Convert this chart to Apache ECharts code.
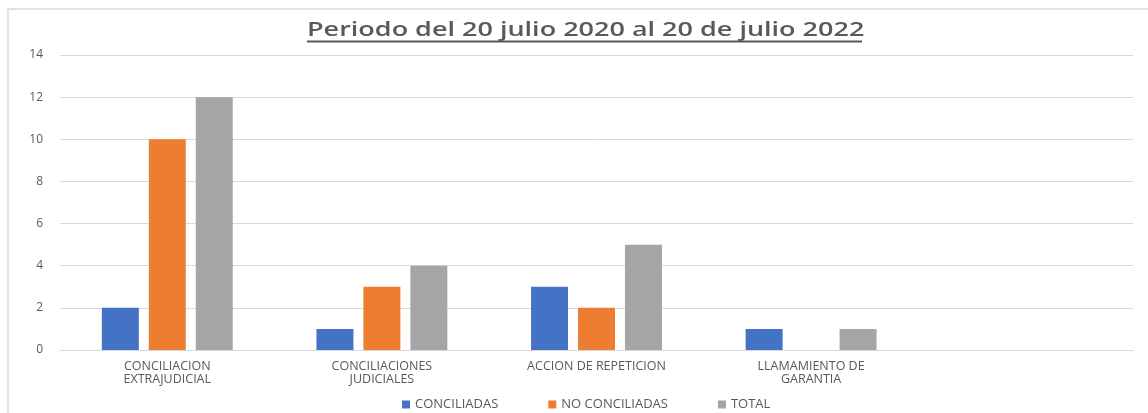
<!DOCTYPE html>
<html>
<head>
<meta charset="utf-8">
<script src="https://cdn.jsdelivr.net/npm/echarts@6/dist/echarts.min.js"></script>
<style>
  html, body { margin: 0; padding: 0; background: #fff; }
  #chart { width: 1148px; height: 413px; }
</style>
</head>
<body>
<div id="chart"></div>
<script>
// categories (the last slot is left empty, as in the original sheet)
const categories = [
  "CONCILIACION\nEXTRAJUDICIAL",
  "CONCILIACIONES\nJUDICIALES",
  "ACCION DE REPETICION",
  "LLAMAMIENTO DE\nGARANTIA",
  ""
];
const conciliadas = [2, 1, 3, 1, null];
const noConciliadas = [10, 3, 2, null, null];
const total = [12, 4, 5, 1, null];

const titleText = "Periodo del 20 julio 2020 al 20 de julio 2022";
const textColor = "#595959";
const font = "'Open Sans', sans-serif";

const chart = echarts.init(document.getElementById("chart"));
chart.setOption({
  animation: false,
  color: ["#4472C4", "#ED7D31", "#A5A5A5"],
  graphic: [
    // chart frame
    { type: "rect", shape: { x: 8, y: 9, width: 1200, height: 420 },
      style: { fill: "none", stroke: "#d9d9d9", lineWidth: 1.5 }, silent: true },
    // title (the original is stretched a bit wider)
    { type: "text", x: 307, y: 30.5, scaleX: 1.35, silent: true,
      style: { text: titleText, fontFamily: font, fontSize: 20, fontWeight: 600,
               fill: textColor, verticalAlign: "middle" } },
    // title underline
    { type: "line", shape: { x1: 307, y1: 41.5, x2: 862, y2: 41.5 },
      style: { stroke: textColor, lineWidth: 1.8 }, silent: true }
  ],
  legend: {
    top: 393,
    left: 397,
    itemWidth: 8,
    itemHeight: 8,
    itemGap: 50,
    icon: "rect",
    textStyle: { fontFamily: font, fontSize: 13, color: textColor }
  },
  grid: { left: 60, right: 15, top: 55, bottom: 63 },
  xAxis: {
    type: "category",
    data: categories,
    axisTick: { show: false },
    axisLine: { lineStyle: { color: "#d9d9d9" } },
    axisLabel: { interval: 0, margin: 10, fontFamily: font, fontSize: 12.5, lineHeight: 13, color: textColor }
  },
  yAxis: {
    type: "value",
    min: 0,
    max: 14,
    interval: 2,
    axisLabel: { margin: 17, fontFamily: font, fontSize: 12, color: textColor },
    splitLine: { lineStyle: { color: "#d9d9d9" } }
  },
  series: [
    { name: "CONCILIADAS", type: "bar", data: conciliadas, barGap: "27%", barCategoryGap: "39%" },
    { name: "NO CONCILIADAS", type: "bar", data: noConciliadas, barGap: "27%", barCategoryGap: "39%" },
    { name: "TOTAL", type: "bar", data: total, barGap: "27%", barCategoryGap: "39%" }
  ]
});
</script>
</body>
</html>
